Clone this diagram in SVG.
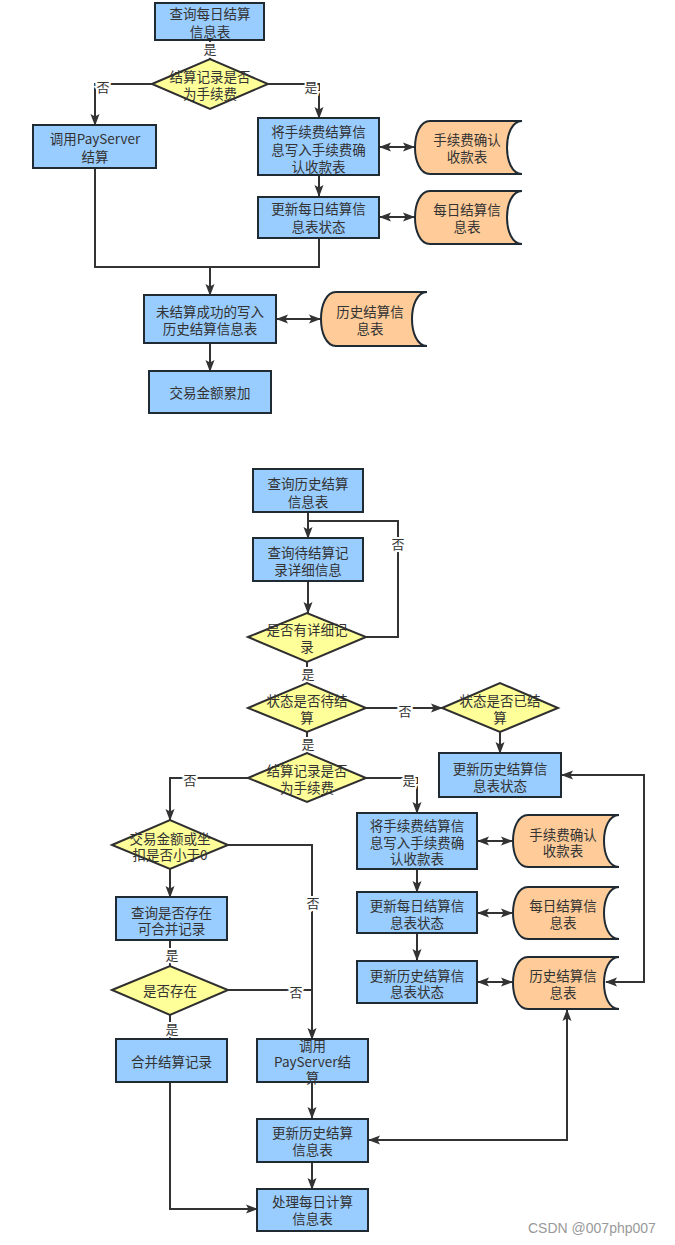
<svg xmlns="http://www.w3.org/2000/svg" width="675" height="1245" viewBox="0 0 675 1245">
<style>
.box{fill:#99ccff;stroke:#1f2a33;stroke-width:2}
.dia{fill:#ffff99;stroke:#2f2f2f;stroke-width:2}
.doc{fill:#ffcc99;stroke:#1f2a33;stroke-width:2}
.t{font-family:"Noto Sans CJK SC","Noto Sans",sans-serif;font-size:13.5px;fill:#333;text-anchor:middle;dominant-baseline:central}
.lbl{font-family:"Noto Sans CJK SC","Noto Sans",sans-serif;font-size:13px;fill:#333;text-anchor:middle;dominant-baseline:central;stroke:#fff;stroke-width:4;paint-order:stroke fill}
.c{fill:none;stroke:#333;stroke-width:2}
.a{marker-end:url(#ah)}
.b{marker-start:url(#ah);marker-end:url(#ah)}
.wm{font-family:"Liberation Sans",Arial,sans-serif;font-size:14px;fill:#999}
</style>
<defs>
<marker id="ah" viewBox="0 0 12 10" refX="11" refY="5" markerWidth="12" markerHeight="10" markerUnits="userSpaceOnUse" orient="auto-start-reverse">
<path d="M0,0.5 L12,5 L0,9.5 L2.5,5 Z" fill="#333"/>
</marker>
</defs>
<rect width="675" height="1245" fill="#fff"/>

<g id="connectors">
<path class="c" d="M210,40 V59"/>
<path class="c a" d="M152,84 H95 V125"/>
<path class="c a" d="M268,84 H319 V118"/>
<path class="c b" d="M380,147 H414"/>
<path class="c a" d="M319,175 V196"/>
<path class="c b" d="M380,217 H414"/>
<path class="c" d="M95,168 V267 H319 V238"/>
<path class="c a" d="M210,267 V295"/>
<path class="c b" d="M277,319 H320"/>
<path class="c a" d="M210,343 V371"/>

<path class="c a" d="M308,512 V538"/>
<path class="c" d="M366,637 H398 V521 H308"/>
<path class="c a" d="M308,581 V613"/>
<path class="c" d="M307,662 V683"/>
<path class="c a" d="M366,708 H442"/>
<path class="c a" d="M500,732 V753"/>
<path class="c" d="M307,732 V753"/>
<path class="c a" d="M366,778 H417 V813"/>
<path class="c a" d="M248,778 H170 V820"/>
<path class="c a" d="M228,845 H312 V1039"/>
<path class="c a" d="M170,869 V897"/>
<path class="c" d="M170,940 V966"/>
<path class="c" d="M228,990 H312"/>
<path class="c" d="M170,1015 V1039"/>
<path class="c b" d="M478,841 H512"/>
<path class="c a" d="M417,869 V892"/>
<path class="c b" d="M478,913 H512"/>
<path class="c a" d="M417,933 V960"/>
<path class="c b" d="M478,982 H512"/>
<path class="c b" d="M562,775 H644 V982 H606"/>
<path class="c a" d="M312,1082 V1118"/>
<path class="c b" d="M567,1010 V1140 H369"/>
<path class="c a" d="M312,1162 V1189"/>
<path class="c a" d="M170,1082 V1209 H257"/>

<text class="lbl" x="210" y="48">是</text>
<text class="lbl" x="103" y="86">否</text>
<text class="lbl" x="311" y="86">是</text>
<text class="lbl" x="398" y="543">否</text>
<text class="lbl" x="308" y="673">是</text>
<text class="lbl" x="405" y="710">否</text>
<text class="lbl" x="308" y="743">是</text>
<text class="lbl" x="409" y="779">是</text>
<text class="lbl" x="190" y="779">否</text>
<text class="lbl" x="313" y="902">否</text>
<text class="lbl" x="172" y="954">是</text>
<text class="lbl" x="296" y="991">否</text>
<text class="lbl" x="172" y="1028">是</text>
</g>

<g id="n_query_daily"><rect class="box" x="155" y="3" width="109" height="37"/><text class="t"><tspan x="210" y="13">查询每日结算</tspan><tspan x="210" y="31">信息表</tspan></text></g>
<g id="n_d_fee1"><polygon class="dia" points="152,84 210,59 268,84 210,109"/><text class="t"><tspan x="210" y="76">结算记录是否</tspan><tspan x="210" y="93">为手续费</tspan></text></g>
<g id="n_payserver1"><rect class="box" x="33" y="125" width="123" height="43"/><text class="t"><tspan x="95" y="138">调用PayServer</tspan><tspan x="95" y="156">结算</tspan></text></g>
<g id="n_write_fee1"><rect class="box" x="258" y="118" width="121" height="57"/><text class="t"><tspan x="318.5" y="131">将手续费结算信</tspan><tspan x="318.5" y="149">息写入手续费确</tspan><tspan x="318.5" y="166">认收款表</tspan></text></g>
<g id="n_doc_fee1"><path class="doc" d="M430,121 H522 C502,121 502,174 522,174 H430 C410,174 410,121 430,121 Z"/><text class="t"><tspan x="467" y="139">手续费确认</tspan><tspan x="467" y="156">收款表</tspan></text></g>
<g id="n_update_daily1"><rect class="box" x="258" y="197" width="121" height="41"/><text class="t"><tspan x="318.5" y="208">更新每日结算信</tspan><tspan x="318.5" y="226">息表状态</tspan></text></g>
<g id="n_doc_daily1"><path class="doc" d="M430,191 H522 C502,191 502,244 522,244 H430 C410,244 410,191 430,191 Z"/><text class="t"><tspan x="467" y="209">每日结算信</tspan><tspan x="467" y="226">息表</tspan></text></g>
<g id="n_write_hist"><rect class="box" x="144" y="295" width="132" height="48"/><text class="t"><tspan x="210" y="311">未结算成功的写入</tspan><tspan x="210" y="328">历史结算信息表</tspan></text></g>
<g id="n_doc_hist1"><path class="doc" d="M336,292 H427 C407,292 407,346 427,346 H336 C316,346 316,292 336,292 Z"/><text class="t"><tspan x="370" y="311">历史结算信</tspan><tspan x="370" y="328">息表</tspan></text></g>
<g id="n_accum"><rect class="box" x="149" y="371" width="122" height="42"/><text class="t" x="210" y="392">交易金额累加</text></g>

<g id="n_query_hist"><rect class="box" x="253" y="469" width="110" height="43"/><text class="t"><tspan x="308" y="483">查询历史结算</tspan><tspan x="308" y="501">信息表</tspan></text></g>
<g id="n_query_pending"><rect class="box" x="253" y="538" width="110" height="43"/><text class="t"><tspan x="308" y="552">查询待结算记</tspan><tspan x="308" y="569">录详细信息</tspan></text></g>
<g id="n_d_detail"><polygon class="dia" points="248,637 307,613 366,637 307,662"/><text class="t"><tspan x="307" y="629">是否有详细记</tspan><tspan x="307" y="646">录</tspan></text></g>
<g id="n_d_pending"><polygon class="dia" points="248,708 307,683 366,708 307,732"/><text class="t"><tspan x="307" y="700">状态是否待结</tspan><tspan x="307" y="717">算</tspan></text></g>
<g id="n_d_settled"><polygon class="dia" points="442,708 500,683 558,708 500,732"/><text class="t"><tspan x="500" y="700">状态是否已结</tspan><tspan x="500" y="717">算</tspan></text></g>
<g id="n_update_hist_state1"><rect class="box" x="439" y="753" width="122" height="44"/><text class="t"><tspan x="500" y="768">更新历史结算信</tspan><tspan x="500" y="785">息表状态</tspan></text></g>
<g id="n_d_fee2"><polygon class="dia" points="248,778 307,753 366,778 307,802"/><text class="t"><tspan x="307" y="770">结算记录是否</tspan><tspan x="307" y="787">为手续费</tspan></text></g>
<g id="n_d_amount"><polygon class="dia" points="112,845 170,820 228,845 170,869"/><text class="t"><tspan x="170" y="838">交易金额或坐</tspan><tspan x="170" y="854">扣是否小于0</tspan></text></g>
<g id="n_query_merge"><rect class="box" x="116" y="897" width="111" height="43"/><text class="t"><tspan x="171.5" y="912">查询是否存在</tspan><tspan x="171.5" y="928">可合并记录</tspan></text></g>
<g id="n_d_exists"><polygon class="dia" points="112,990 170,966 228,990 170,1015"/><text class="t" x="170" y="990">是否存在</text></g>
<g id="n_merge"><rect class="box" x="116" y="1039" width="111" height="43"/><text class="t" x="171.5" y="1061">合并结算记录</text></g>
<g id="n_payserver2"><rect class="box" x="257" y="1039" width="111" height="43"/><text class="t"><tspan x="312.5" y="1045">调用</tspan><tspan x="312.5" y="1061">PayServer结</tspan><tspan x="312.5" y="1077">算</tspan></text></g>
<g id="n_update_hist"><rect class="box" x="257" y="1119" width="111" height="43"/><text class="t"><tspan x="312.5" y="1132">更新历史结算</tspan><tspan x="312.5" y="1149">信息表</tspan></text></g>
<g id="n_process_daily"><rect class="box" x="257" y="1189" width="111" height="42"/><text class="t"><tspan x="312.5" y="1201">处理每日计算</tspan><tspan x="312.5" y="1218">信息表</tspan></text></g>
<g id="n_write_fee2"><rect class="box" x="357" y="813" width="120" height="56"/><text class="t"><tspan x="417" y="825">将手续费结算信</tspan><tspan x="417" y="842">息写入手续费确</tspan><tspan x="417" y="858">认收款表</tspan></text></g>
<g id="n_doc_fee2"><path class="doc" d="M528,815 H619 C599,815 599,867 619,867 H528 C508,867 508,815 528,815 Z"/><text class="t"><tspan x="563" y="834">手续费确认</tspan><tspan x="563" y="850">收款表</tspan></text></g>
<g id="n_update_daily2"><rect class="box" x="357" y="892" width="120" height="41"/><text class="t"><tspan x="417" y="905">更新每日结算信</tspan><tspan x="417" y="922">息表状态</tspan></text></g>
<g id="n_doc_daily2"><path class="doc" d="M528,887 H619 C599,887 599,939 619,939 H528 C508,939 508,887 528,887 Z"/><text class="t"><tspan x="563" y="905">每日结算信</tspan><tspan x="563" y="922">息表</tspan></text></g>
<g id="n_update_hist_state2"><rect class="box" x="357" y="961" width="120" height="42"/><text class="t"><tspan x="417" y="975">更新历史结算信</tspan><tspan x="417" y="991">息表状态</tspan></text></g>
<g id="n_doc_hist2"><path class="doc" d="M528,957 H619 C599,957 599,1009 619,1009 H528 C508,1009 508,957 528,957 Z"/><text class="t"><tspan x="563" y="975">历史结算信</tspan><tspan x="563" y="992">息表</tspan></text></g>

<text class="wm" x="528" y="1233">CSDN @007php007</text>
</svg>
